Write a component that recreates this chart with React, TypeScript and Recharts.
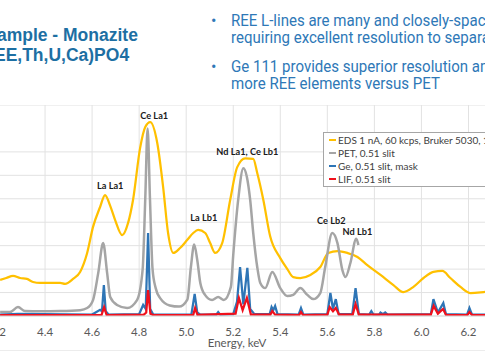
import { CartesianGrid, Legend, Line, LineChart, ReferenceDot, XAxis, YAxis } from "recharts";

// energy (keV), counts (arbitrary units, 1 unit = one gridline)
const eds: [number, number][] = [
  [4.209, 1.54], [4.235, 1.62], [4.264, 1.71], [4.294, 1.62], [4.323, 1.58], [4.349, 1.45],
  [4.379, 1.41], [4.421, 1.41], [4.464, 1.41], [4.485, 1.37], [4.519, 1.58], [4.549, 1.88],
  [4.579, 2.69], [4.604, 3.8], [4.634, 4.65], [4.655, 5.16], [4.677, 4.7], [4.698, 4.09],
  [4.728, 3.45], [4.753, 3.97], [4.774, 4.95], [4.804, 7.16], [4.826, 8.06], [4.847, 8.27],
  [4.877, 7.38], [4.902, 5.5], [4.923, 3.54], [4.945, 2.69], [4.974, 2.9], [5.004, 3.24],
  [5.03, 3.54], [5.051, 3.67], [5.081, 3.54], [5.102, 3.11], [5.123, 2.69], [5.153, 3.11],
  [5.187, 4.95], [5.217, 6.35], [5.251, 6.72], [5.285, 6.7], [5.302, 6.1], [5.328, 4.95],
  [5.357, 3.4], [5.4, 2.47], [5.43, 2.0], [5.455, 1.66], [5.485, 1.62], [5.528, 1.75],
  [5.57, 2.09], [5.604, 2.69], [5.643, 2.77], [5.685, 2.69], [5.728, 2.52], [5.77, 2.17],
  [5.826, 1.75], [5.881, 1.32], [5.923, 1.02], [5.966, 1.24], [6.009, 1.62], [6.051, 1.88],
  [6.089, 1.92], [6.123, 1.62], [6.166, 1.24], [6.209, 0.98], [6.264, 1.02], [6.294, 1.05],
];

const pet: [number, number][] = [
  [4.209, 0.17], [4.251, 0.17], [4.285, 0.38], [4.315, 0.21], [4.379, 0.2], [4.464, 0.21],
  [4.549, 0.25], [4.579, 0.34], [4.604, 0.68], [4.626, 1.83], [4.647, 3.11], [4.664, 1.83],
  [4.677, 0.81], [4.706, 0.47], [4.749, 0.34], [4.791, 0.68], [4.815, 2.0], [4.826, 5.0],
  [4.836, 8.0], [4.846, 5.0], [4.857, 2.0], [4.87, 1.2], [4.89, 0.75], [4.93, 0.45],
  [4.97, 0.4], [5.005, 0.7], [5.02, 2.09], [5.034, 3.05], [5.047, 2.39], [5.06, 1.41],
  [5.08, 0.9], [5.11, 0.68], [5.136, 0.81], [5.16, 0.68], [5.19, 1.24], [5.2, 2.6],
  [5.221, 4.95], [5.243, 6.3], [5.258, 5.93], [5.272, 4.95], [5.285, 3.54], [5.302, 2.09],
  [5.315, 1.41], [5.336, 1.19], [5.366, 1.88], [5.4, 1.19], [5.43, 0.85], [5.455, 0.9],
  [5.485, 1.19], [5.515, 0.9], [5.54, 0.72], [5.57, 0.98], [5.591, 2.09], [5.621, 3.54],
  [5.643, 3.11], [5.664, 1.96], [5.677, 1.66], [5.698, 2.26], [5.723, 3.3], [5.732, 3.03],
];

const ge: [number, number][] = [
  [4.209, 0.06], [4.285, 0.09], [4.6, 0.06], [4.634, 0.26], [4.642, 0.2], [4.65, 1.32],
  [4.658, 0.2], [4.67, 0.06], [4.8, 0.08], [4.817, 0.47], [4.828, 0.3], [4.838, 3.54],
  [4.847, 0.3], [4.86, 0.06], [5.022, 0.06], [5.036, 0.94], [5.047, 0.15], [5.06, 0.06],
  [5.128, 0.06], [5.136, 0.17], [5.145, 0.06], [5.2, 0.08], [5.216, 0.6], [5.229, 2.09],
  [5.243, 0.5], [5.26, 2.05], [5.272, 0.3], [5.29, 0.08], [5.355, 0.08], [5.363, 0.38],
  [5.37, 0.25], [5.378, 0.43], [5.388, 0.08], [5.478, 0.06], [5.488, 0.34], [5.498, 0.06],
  [5.6, 0.08], [5.613, 0.98], [5.624, 0.3], [5.636, 0.72], [5.648, 0.08], [5.706, 0.08],
  [5.72, 1.19], [5.734, 0.08], [5.778, 0.06], [5.787, 0.21], [5.796, 0.06], [5.82, 0.06],
  [5.826, 0.15], [5.836, 0.08], [5.846, 0.15], [5.856, 0.06], [6.04, 0.08], [6.051, 0.72],
  [6.07, 0.15], [6.093, 0.55], [6.104, 0.08], [6.194, 0.06], [6.204, 0.34], [6.215, 0.06],
  [6.294, 0.06],
];

const lif: [number, number][] = [
  [4.209, 0.04], [4.64, 0.04], [4.651, 0.38], [4.662, 0.04], [4.82, 0.06], [4.83, 0.15],
  [4.838, 1.1], [4.848, 0.1], [4.86, 0.04], [5.03, 0.05], [5.038, 0.34], [5.048, 0.05],
  [5.21, 0.1], [5.224, 0.77], [5.24, 0.25], [5.258, 0.77], [5.275, 0.06], [5.358, 0.06],
  [5.366, 0.21], [5.378, 0.06], [5.48, 0.04], [5.488, 0.17], [5.497, 0.04], [5.6, 0.06],
  [5.61, 0.38], [5.624, 0.2], [5.636, 0.34], [5.65, 0.06], [5.708, 0.06], [5.72, 0.51],
  [5.734, 0.06], [6.04, 0.06], [6.052, 0.43], [6.07, 0.1], [6.092, 0.3], [6.105, 0.04],
  [6.195, 0.04], [6.204, 0.17], [6.215, 0.04], [6.294, 0.04],
];

const seriesNames = [
  "EDS 1 nA, 60 kcps, Bruker 5030, 10 kV",
  "PET, 0.51 slit",
  "Ge, 0.51 slit, mask",
  "LIF, 0.51 slit",
];

const peakLabels = [
  { text: "La La1", e: 4.677, v: 5.54 },
  { text: "Ce La1", e: 4.864, v: 8.53 },
  { text: "La Lb1", e: 5.075, v: 4.2 },
  { text: "Nd La1, Ce Lb1", e: 5.26, v: 6.99 },
  { text: "Ce Lb2", e: 5.617, v: 4.05 },
  { text: "Nd Lb1", e: 5.728, v: 3.58 },
];

const xTicks = [4.2, 4.4, 4.6, 4.8, 5.0, 5.2, 5.4, 5.6, 5.8, 6.0, 6.2];
const yTicks = [0, 1, 2, 3, 4, 5, 6, 7, 8, 9];

const toRows = (pts: [number, number][]) => pts.map(([e, v]) => ({ e, v }));

const chartFont = "Lato, 'Open Sans', sans-serif";

const renderLegend = (props: any) => {
  const { payload = [] } = props;
  // keep the series order, not alphabetical
  const items = [...payload].sort(
    (a: any, b: any) => seriesNames.indexOf(a.value) - seriesNames.indexOf(b.value)
  );
  return (
    <div
      style={{
        border: "1px solid #a6a6a6",
        background: "#fff",
        width: 200,
        paddingLeft: 5,
        fontFamily: chartFont,
        fontSize: 10,
        color: "#404040",
      }}
    >
      {items.map((p: any) => (
        <div
          key={p.value}
          style={{ height: 13.25, display: "flex", alignItems: "center", whiteSpace: "nowrap" }}
        >
          <span style={{ width: 7, height: 2, background: p.color, marginRight: 2, display: "inline-block" }} />
          {p.value}
        </div>
      ))}
    </div>
  );
};

const AxisTitle = (props: any) => {
  const { viewBox } = props;
  return (
    <text
      x={viewBox.x + viewBox.width / 2 - 8}
      y={viewBox.y + 31}
      textAnchor="middle"
      fill="#595959"
      fontSize={11.5}
      fontFamily={chartFont}
    >
      Energy, keV
    </text>
  );
};

const bulletText = {
  position: "absolute" as const,
  left: 231,
  fontFamily: "Roboto, sans-serif",
  fontSize: 16,
  lineHeight: "17px",
  color: "#2e78b7",
  whiteSpace: "nowrap" as const,
  transform: "scaleX(0.94)",
  transformOrigin: "left top",
};

const bulletDot = {
  position: "absolute" as const,
  left: 211,
  fontFamily: "Roboto, sans-serif",
  fontSize: 16,
  lineHeight: "17px",
  color: "#2e78b7",
};

const App = () => {
  return (
    <div
      style={{
        position: "absolute",
        left: 0,
        top: 0,
        width: 485,
        height: 360,
        overflow: "hidden",
        background: "#fff",
      }}
    >
      <div
        style={{
          position: "absolute",
          left: -24.5,
          top: 25,
          fontFamily: "'Liberation Sans', Arial, sans-serif",
          fontWeight: 700,
          fontSize: 17.5,
          lineHeight: "20px",
          color: "#1d6fa3",
          whiteSpace: "nowrap",
        }}
      >
        Example - Monazite
        <br />
        (REE,Th,U,Ca)PO4
      </div>

      <div style={{ ...bulletDot, top: 11.5 }}>•</div>
      <div style={{ ...bulletText, top: 11.5 }}>
        REE L-lines are many and closely-spaced,
        <br />
        requiring excellent resolution to separate
      </div>
      <div style={{ ...bulletDot, top: 57.5 }}>•</div>
      <div style={{ ...bulletText, top: 57.5 }}>
        Ge 111 provides superior resolution and
        <br />
        more REE elements versus PET
      </div>

      <div style={{ position: "absolute", left: 0, top: 350, width: 485, height: 1, background: "#ececec" }} />

      <div style={{ position: "absolute", left: -2, top: 105 }}>
        <LineChart width={494} height={256} margin={{ top: 0, right: 0, bottom: 0, left: 0 }}>
          <CartesianGrid stroke="#e2e2e2" />
          <XAxis
            type="number"
            dataKey="e"
            domain={[4.2, 6.3]}
            ticks={xTicks}
            interval={0}
            allowDataOverflow
            tickFormatter={(v: number) => v.toFixed(1)}
            tickLine={false}
            tickSize={0}
            tickMargin={12}
            axisLine={{ stroke: "#d9d9d9" }}
            height={45}
            tick={{ fill: "#595959", fontSize: 11.5, fontFamily: chartFont }}
            label={<AxisTitle />}
          />
          <YAxis hide type="number" domain={[0, 9]} ticks={yTicks} allowDataOverflow />
          <Line
            data={toRows(eds)}
            dataKey="v"
            name={seriesNames[0]}
            type="monotone"
            stroke="#ffc000"
            strokeWidth={2.25}
            dot={false}
            isAnimationActive={false}
          />
          <Line
            data={toRows(pet)}
            dataKey="v"
            name={seriesNames[1]}
            type="monotone"
            stroke="#a5a5a5"
            strokeWidth={2.5}
            dot={false}
            isAnimationActive={false}
          />
          <Line
            data={toRows(ge)}
            dataKey="v"
            name={seriesNames[2]}
            type="linear"
            stroke="#2e75b6"
            strokeWidth={2.25}
            dot={false}
            isAnimationActive={false}
          />
          <Line
            data={toRows(lif)}
            dataKey="v"
            name={seriesNames[3]}
            type="linear"
            stroke="#f0101c"
            strokeWidth={2.25}
            dot={false}
            isAnimationActive={false}
          />
          {peakLabels.map((p) => (
            <ReferenceDot
              key={p.text}
              x={p.e}
              y={p.v}
              r={0}
              fill="none"
              stroke="none"
              label={{
                value: p.text,
                position: "center",
                fill: "#1a1a1a",
                fontSize: 9.2,
                fontWeight: 700,
                fontFamily: chartFont,
              }}
            />
          ))}
          <Legend
            verticalAlign="middle"
            align="center"
            layout="horizontal"
            content={renderLegend}
            wrapperStyle={{ left: 325, top: 27, width: 200 }}
          />
        </LineChart>
      </div>
    </div>
  );
};

export default App;
